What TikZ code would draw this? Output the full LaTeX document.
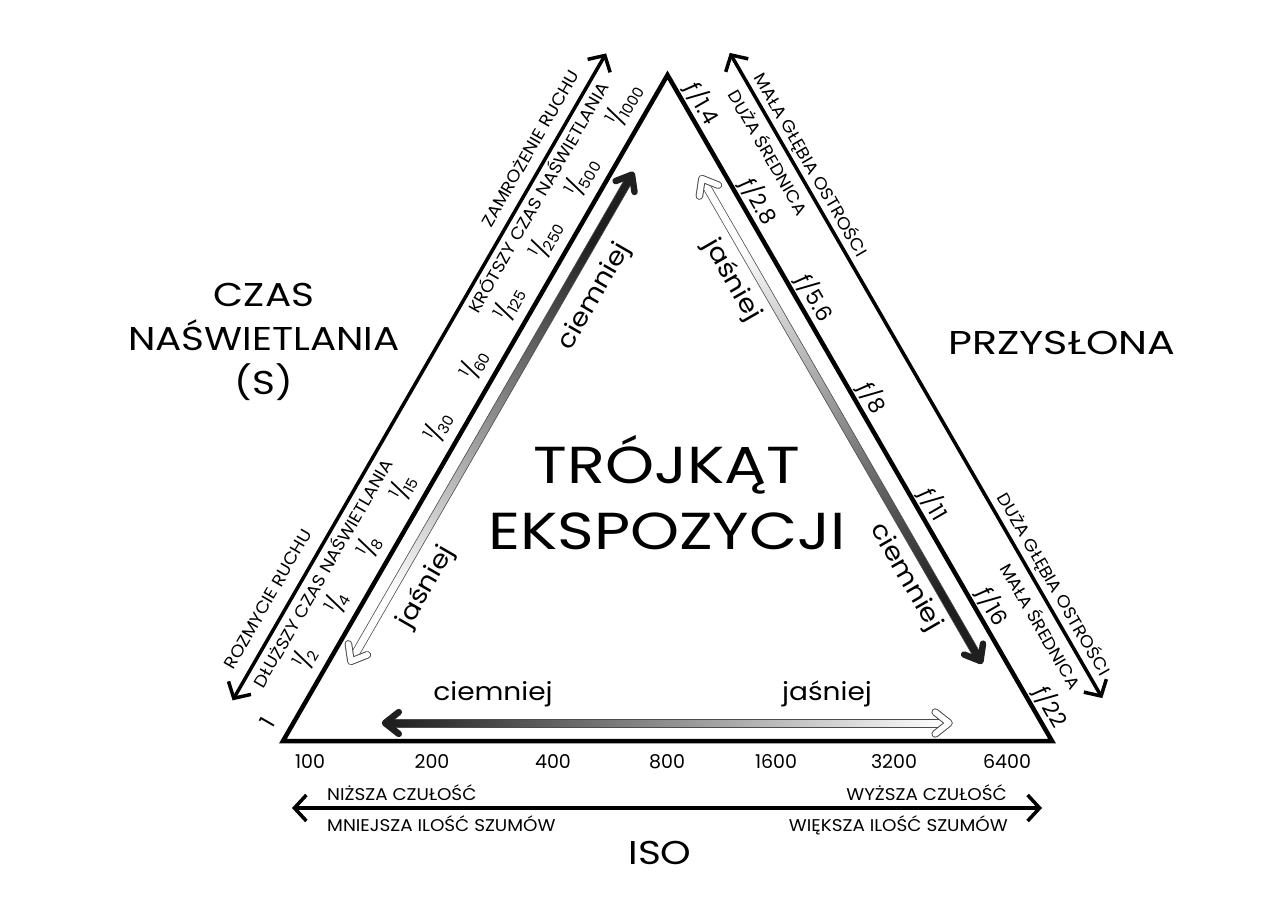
\documentclass[tikz,border=0pt]{standalone}
\usepackage{fontspec}
\setmainfont{Poppins}
\newfontfamily\capsfont{Poppins}[FakeStretch=1.08]
\newfontfamily\hintfont{Poppins}[FakeStretch=1.12]
\newfontfamily\bigfont{Poppins}[FakeStretch=1.18]
\newfontfamily\widefont{Poppins}[FakeStretch=1.25]
\newfontfamily\titlefont{Poppins}[FakeStretch=1.2]
\usetikzlibrary{calc,positioning,arrows.meta}

\newcommand{\shutfr}[2]{\raisebox{.36em}{\fontsize{15}{15}\selectfont #1}\kern-.1em/\kern-.1em\raisebox{-.14em}{\fontsize{15}{15}\selectfont #2}}

% gradient arrow: dark tip, light tip, shading angle
\newcommand{\gradarrow}[3]{%
  \coordinate (#1s) at ($(#1)!8pt!(#2)$);
  \coordinate (#2s) at ($(#2)!8pt!(#1)$);
  \shade[top color=black!88,bottom color=white,shading angle=#3,draw=black!70,line width=.6pt]
    ($(#1s)!4pt!90:(#2s)$) -- ($(#2s)!4pt!-90:(#1s)$) -- ($(#2s)!4pt!90:(#1s)$) -- ($(#1s)!4pt!-90:(#2s)$) -- cycle;
  \draw[darkhead] ($(#1)!20pt!33:(#2)$) -- ($(#1)!3pt!(#2)$) -- ($(#1)!20pt!-33:(#2)$);
  \draw[lightrim] ($(#2)!20pt!33:(#1)$) -- ($(#2)!3pt!(#1)$) -- ($(#2)!20pt!-33:(#1)$);
  \draw[lightfill] ($(#2)!20pt!33:(#1)$) -- ($(#2)!3pt!(#1)$) -- ($(#2)!20pt!-33:(#1)$);
}

\begin{document}
\begin{tikzpicture}[
x=1pt,y=1pt,
tri/.style={
  line width=4.5pt,
  line join=miter
  },
axis/.style={
  line width=3.5pt,
  <->
  },
darkhead/.style={line width=6.5pt,black!88,line cap=round,line join=round},
lightrim/.style={line width=7.6pt,black!70,line cap=round,line join=round},
lightfill/.style={line width=5.6pt,white,line cap=round,line join=round},
smallcap/.style={font=\capsfont\fontsize{17}{17}\selectfont,inner sep=0pt},
speed/.style={font=\fontsize{22}{22}\selectfont,inner sep=0pt},
fstop/.style={font=\fontsize{22}{22}\selectfont,inner sep=0pt},
hint/.style={font=\hintfont\fontsize{25}{25}\selectfont,inner sep=0pt},
isonum/.style={font=\fontsize{19}{19}\selectfont,inner sep=0pt},
big/.style={font=\bigfont\fontsize{33}{44}\selectfont,inner sep=0pt},
title/.style={font=\titlefont\fontsize{52}{66}\selectfont,inner sep=0pt},
>={Straight Barb[length=12pt,width=26pt]}
]
\useasboundingbox (0,0) rectangle (1280,-905);

\coordinate (BL) at (283,-741);
\coordinate (BR) at (1052,-741);
\coordinate (top) at (667.5,-75);

\draw[tri] (BL) -- (top) -- (BR) -- cycle;

% shutter speed side
\begin{scope}[shift={(BL)},rotate=60,transform shape]
  \coordinate (sLlo) at (10,64);
  \coordinate (sLhi) at (757,64);
  \coordinate (gLlight) at (100,-19);
  \coordinate (gLdark) at (668,-19);
  \node[smallcap,anchor=base west] (rozmycie) at (36,78) {ROZMYCIE RUCHU};
  \node[smallcap,anchor=base west] (dluzszy) at (35,43) {DŁUŻSZY CZAS NAŚWIETLANIA};
  \node[smallcap,anchor=base east] (zamrozenie) at (726,76) {ZAMROŻENIE RUCHU};
  \node[smallcap,anchor=base east] (krotszy) at (730,44) {KRÓTSZY CZAS NAŚWIETLANIA};
  \foreach \s/\lab [count=\i] in {8/1,83/\shutfr{1}{2},147/\shutfr{1}{4},212/\shutfr{1}{8},
      280/\shutfr{1}{15},350/\shutfr{1}{30},422/\shutfr{1}{60},492/\shutfr{1}{125},
      566/\shutfr{1}{250},638/\shutfr{1}{500},722/\shutfr{1}{1000}}
    \node[speed] (sp\i) at (\s,23) {\lab};
  \node[hint] (jasL) at (205,-47) {jaśniej};
  \node[hint] (ciemL) at (541,-48) {ciemniej};
\end{scope}

% aperture side
\begin{scope}[shift={(top)},rotate=-60,transform shape]
  \coordinate (sRhi) at (12,65);
  \coordinate (sRlo) at (757,65);
  \coordinate (gRlight) at (104,-22);
  \coordinate (gRdark) at (667,-22);
  \node[smallcap,anchor=base west] (malaglebia) at (45,73) {MAŁA GŁĘBIA OSTROŚCI};
  \node[smallcap,anchor=base west] (duzasred) at (47,42) {DUŻA ŚREDNICA};
  \node[smallcap,anchor=base east] (duzaglebia) at (738,74) {DUŻA GŁĘBIA OSTROŚCI};
  \node[smallcap,anchor=base east] (malasred) at (735,41) {MAŁA ŚREDNICA};
  \foreach \s/\lab [count=\i] in {42/1.4,155/2.8,267/5.6,382/8,505/11,623/16,739/22}
    \node[fstop] (fs\i) at (\s,16) {ƒ/\lab};
  \node[hint] (jasR) at (210,-47) {jaśniej};
  \node[hint] (ciemR) at (554,-45) {ciemniej};
\end{scope}

% iso side
\coordinate (gBdark) at (382,-723);
\coordinate (gBlight) at (952,-723);
\node[hint] (ciemB) at (493,-694) {ciemniej};
\node[hint] (jasB) at (827,-694) {jaśniej};
\foreach \x/\v in {310/100,432/200,553/400,667/800,776/1600,894/3200,1007/6400}
  \node[isonum,anchor=base] (iso\v) at (\x,-768) {\v};
\coordinate (isoL) at (292,-808);
\coordinate (isoR) at (1042,-808);
\node[smallcap,anchor=base west] (nizsza) at (327,-800) {NIŻSZA CZUŁOŚĆ};
\node[smallcap,anchor=base east] (wyzsza) at (1007,-800) {WYŻSZA CZUŁOŚĆ};
\node[smallcap,anchor=base west] (mniejsza) at (327,-831) {MNIEJSZA ILOŚĆ SZUMÓW};
\node[smallcap,anchor=base east] (wieksza) at (1008,-831) {WIĘKSZA ILOŚĆ SZUMÓW};

\draw[axis] (sLlo) -- (sLhi);
\draw[axis] (sRhi) -- (sRlo);
\draw[axis] (isoL) -- (isoR);

\gradarrow{gLdark}{gLlight}{-30}
\gradarrow{gRdark}{gRlight}{-150}
\gradarrow{gBdark}{gBlight}{90}

\node[big,align=center] (czas) at (264,-342) {CZAS\\NAŚWIETLANIA\\(S)};
\node[big,font=\widefont\fontsize{33}{44}\selectfont] (przyslona) at (1062,-343) {PRZYSŁONA};
\node[big] (iso) at (660,-853) {ISO};
\node[title,align=center] (trojkat) at (667,-493) {TRÓJKĄT\\EKSPOZYCJI};
\end{tikzpicture}
\end{document}
